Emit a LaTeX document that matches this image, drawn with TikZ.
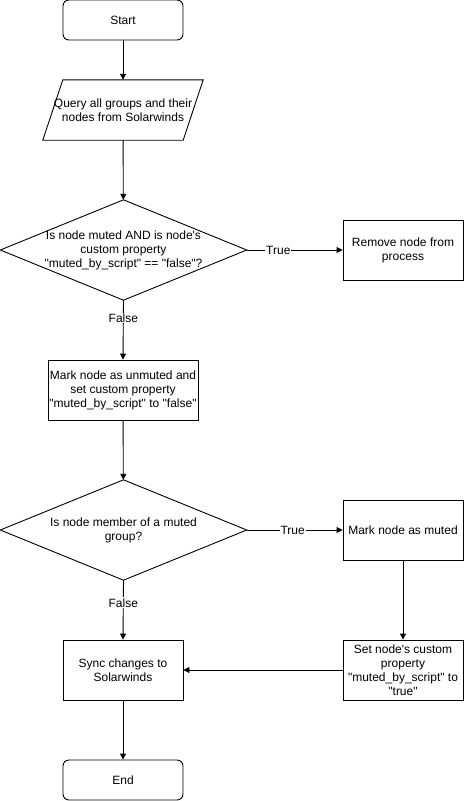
\documentclass[tikz,border=0pt]{standalone}
\usepackage{fontspec}
\newfontfamily\lsans{Liberation Sans}
\usetikzlibrary{arrows.meta,calc}
\begin{document}
\begin{tikzpicture}[x=1pt,y=-1pt,
  every node/.style={font=\lsans\fontsize{12}{14}\selectfont, align=center, inner sep=0pt},
  box/.style={draw, line width=0.9pt, minimum width=120pt, minimum height=60pt},
  wbox/.style={box, minimum width=150pt},
  term/.style={box, minimum height=40pt, rounded corners=6pt},
  lbl/.style={fill=white, inner sep=1pt},
  conn/.style={line width=0.9pt, -{Triangle[length=6pt,width=6pt]}},
  edge/.style={line width=0.9pt}]
\useasboundingbox (0,0) rectangle (465,801);
\node[term] (start) at (123,20) {Start};
\node[minimum width=140pt, minimum height=60pt] (query) at (123,110) {Query all groups and their\\nodes from Solarwinds};
\draw[edge] ($(query.south west)+(-10,0)$) -- ($(query.south east)+(-10,0)$) -- ($(query.north east)+(10,0)$) -- ($(query.north west)+(10,0)$) -- cycle;
\node[minimum width=246pt, minimum height=100pt] (d1) at (123.5,250) {Is node muted AND is node's\\custom property\\"muted\_by\_script" == "false"?};
\draw[edge] (d1.north) -- (d1.east) -- (d1.south) -- (d1.west) -- cycle;
\node[box] (remove) at (403,250) {Remove node from\\process};
\node[wbox] (unmute) at (123,390) {Mark node as unmuted and\\set custom property\\"muted\_by\_script" to "false"};
\node[minimum width=246pt, minimum height=100pt] (d2) at (123.5,530) {Is node member of a muted\\group?};
\draw[edge] (d2.north) -- (d2.east) -- (d2.south) -- (d2.west) -- cycle;
\node[box] (mute) at (403,530) {Mark node as muted};
\node[box] (setprop) at (403,670) {Set node's custom\\property\\"muted\_by\_script" to\\"true"};
\node[box] (sync) at (123,670) {Sync changes to\\Solarwinds};
\node[term] (end) at (123,780) {End};

\draw[conn] (start) -- (query);
\draw[conn] (query) -- (d1);
\draw[conn] (d1.east) -- node[lbl, pos=0.33] (t1) {True} (remove.west);
\draw[conn] (d1.south) -- node[lbl, pos=0.3] (f1) {False} (unmute.north);
\draw[conn] (unmute) -- (d2);
\draw[conn] (d2.east) -- node[lbl, pos=0.48] (t2) {True} (mute.west);
\draw[conn] (d2.south) -- node[lbl, pos=0.38] (f2) {False} (sync.north);
\draw[conn] (mute) -- (setprop);
\draw[conn] (setprop) -- (sync);
\draw[conn] (sync) -- (end);
\end{tikzpicture}
\end{document}
